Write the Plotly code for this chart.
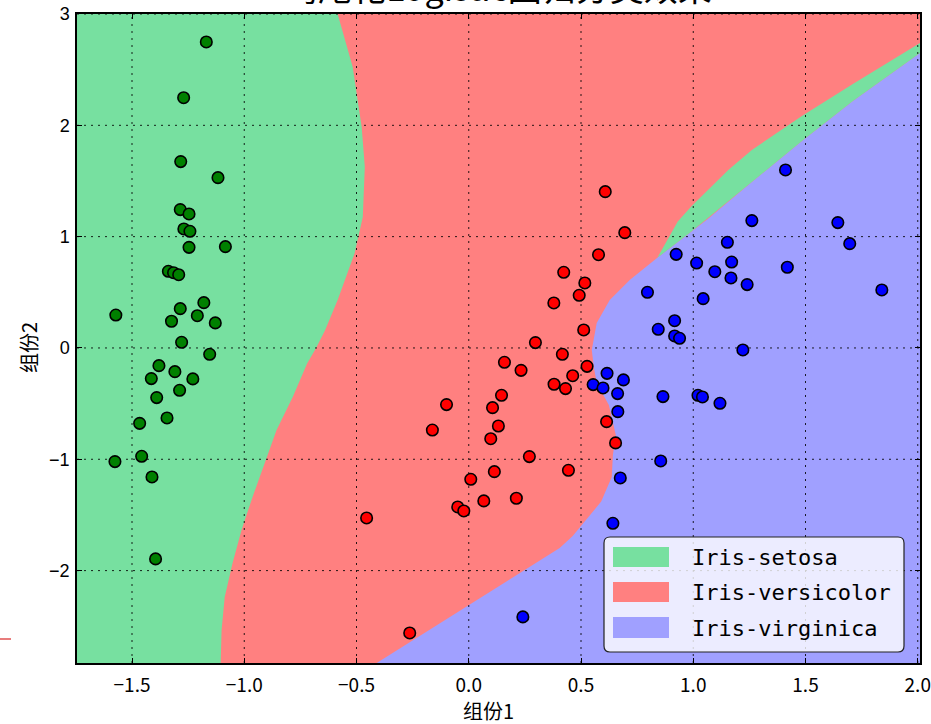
import plotly.graph_objects as go

# ---- axes -------------------------------------------------------------
X_RANGE = [-1.745, 2.01]
Y_RANGE = [-2.83, 3.0]
x_ticks = [-1.5, -1.0, -0.5, 0.0, 0.5, 1.0, 1.5, 2.0]
x_tick_text = ["−1.5", "−1.0", "−0.5", "0.0", "0.5", "1.0", "1.5", "2.0"]
y_ticks = [-2, -1, 0, 1, 2, 3]
y_tick_text = ["−2", "−1", "0", "1", "2", "3"]

class_names = ["Iris-setosa", "Iris-versicolor", "Iris-virginica"]
light_colors = ["#77E0A0", "#FF8080", "#A0A0FF"]
dark_colors = ["#008000", "#FF0000", "#0000FF"]

# ---- samples (two principal components) -------------------------------
setosa_x = [-1.169, -1.270, -1.283, -1.117, -1.285, -1.246, -1.269, -1.242, -1.246, -1.084,
            -1.338, -1.315, -1.292, -1.180, -1.285, -1.572, -1.209, -1.324, -1.129, -1.279,
            -1.154, -1.380, -1.309, -1.414, -1.229, -1.288, -1.390, -1.344, -1.466, -1.576,
            -1.457, -1.411, -1.395]
setosa_y = [2.749, 2.248, 1.674, 1.530, 1.243, 1.204, 1.069, 1.048, 0.904, 0.910,
            0.689, 0.676, 0.658, 0.407, 0.353, 0.296, 0.290, 0.240, 0.225, 0.051,
            -0.057, -0.159, -0.213, -0.275, -0.278, -0.380, -0.446, -0.629, -0.677, -1.021,
            -0.973, -1.159, -1.895]

versicolor_x = [0.608, 0.695, 0.578, 0.423, 0.517, 0.492, 0.379, 0.512, 0.297, 0.417,
                0.159, 0.233, 0.527, 0.463, 0.380, 0.431, 0.146, -0.099, 0.106, 0.614,
                -0.162, 0.132, 0.098, 0.654, 0.270, 0.114, 0.444, 0.009, 0.067, 0.212,
                -0.455, -0.263, -0.049, -0.022]
versicolor_y = [1.404, 1.036, 0.838, 0.680, 0.584, 0.473, 0.404, 0.162, 0.048, -0.057,
                -0.129, -0.201, -0.165, -0.249, -0.326, -0.365, -0.425, -0.509, -0.536, -0.662,
                -0.737, -0.701, -0.815, -0.853, -0.976, -1.111, -1.099, -1.180, -1.374, -1.350,
                -1.527, -2.560, -1.428, -1.464]

virginica_x = [0.917, 0.844, 0.917, 0.939, 1.221, 0.616, 0.689, 0.554, 0.598, 0.663,
               0.865, 1.021, 1.041, 1.119, 0.664, 0.855, 0.675, 0.642, 1.411, 1.261,
               1.644, 1.697, 1.152, 0.924, 1.015, 1.171, 1.096, 1.419, 1.168, 1.240,
               0.796, 1.044, 1.840, 0.241]
virginica_y = [0.245, 0.168, 0.108, 0.087, -0.018, -0.228, -0.287, -0.329, -0.359, -0.410,
               -0.437, -0.425, -0.440, -0.497, -0.572, -1.015, -1.168, -1.575, 1.599, 1.144,
               1.126, 0.937, 0.949, 0.841, 0.763, 0.772, 0.685, 0.725, 0.629, 0.569,
               0.500, 0.443, 0.521, -2.416]

# ---- decision boundaries of the classifier ----------------------------
# setosa | versicolor, listed from top to bottom
edge_sv_x = [-0.584, -0.517, -0.477, -0.463, -0.472, -0.508, -0.584, -0.640, -0.680, -0.720,
             -0.784, -0.856, -0.909, -0.963, -1.012, -1.052, -1.087, -1.101, -1.105]
edge_sv_y = [3.0, 2.524, 1.985, 1.626, 1.177, 0.853, 0.431, 0.160, 0.0, -0.140,
             -0.440, -0.737, -1.033, -1.338, -1.635, -1.931, -2.237, -2.533, -2.83]
# versicolor | virginica, listed from bottom to top
edge_vv_x = [-0.410, 0.004, 0.272, 0.405, 0.463, 0.590, 0.637, 0.642, 0.655, 0.624,
             0.570, 0.557, 0.548, 0.570, 0.628, 0.717, 0.840]
edge_vv_y = [-2.83, -2.309, -1.968, -1.797, -1.689, -1.380, -1.159, -0.961, -0.781, -0.512,
             -0.314, -0.171, -0.018, 0.225, 0.431, 0.611, 0.810]
# thin setosa band between versicolor and virginica
band_top_x = [0.840, 0.885, 0.931, 0.991, 1.066, 1.156, 1.261, 1.484, 1.711, 2.01]
band_top_y = [0.810, 0.970, 1.135, 1.270, 1.419, 1.599, 1.779, 2.084, 2.371, 2.74]
band_bot_x = [0.840, 0.989, 1.065, 1.261, 1.484, 1.711, 2.01]
band_bot_y = [0.810, 1.042, 1.159, 1.491, 1.859, 2.219, 2.65]

fig = go.Figure()

x0, x1 = X_RANGE
y0, y1 = Y_RANGE

# setosa region (left)
fig.add_trace(go.Scatter(
    x=[x0] + edge_sv_x + [x0], y=[y1] + edge_sv_y + [y0],
    fill="toself", fillcolor=light_colors[0], mode="lines", line=dict(width=0),
    hoverinfo="skip", showlegend=False))
# virginica region (lower right)
fig.add_trace(go.Scatter(
    x=edge_vv_x + band_bot_x[1:] + [x1], y=edge_vv_y + band_bot_y[1:] + [y0],
    fill="toself", fillcolor=light_colors[2], mode="lines", line=dict(width=0),
    hoverinfo="skip", showlegend=False))
# setosa band
fig.add_trace(go.Scatter(
    x=band_top_x + band_bot_x[::-1], y=band_top_y + band_bot_y[::-1],
    fill="toself", fillcolor=light_colors[0], mode="lines", line=dict(width=0),
    hoverinfo="skip", showlegend=False))

# dotted grid over the regions, below the samples
gx, gy = [], []
for t in x_ticks:
    gx += [t, t, None]
    gy += [y0, y1, None]
for t in y_ticks:
    gx += [x0, x1, None]
    gy += [t, t, None]
fig.add_trace(go.Scatter(x=gx, y=gy, mode="lines",
                         line=dict(color="rgba(0,0,0,0.85)", width=1, dash="2px,5px"),
                         hoverinfo="skip", showlegend=False))

for xs, ys, c, n in [(setosa_x, setosa_y, dark_colors[0], class_names[0]),
                     (versicolor_x, versicolor_y, dark_colors[1], class_names[1]),
                     (virginica_x, virginica_y, dark_colors[2], class_names[2])]:
    fig.add_trace(go.Scatter(x=xs, y=ys, mode="markers", name=n,
                             marker=dict(color=c, size=11.5, line=dict(color="black", width=1.6)),
                             showlegend=False))

# ---- layout -------------------------------------------------------------
W, H = 931, 724
L, R, T, B = 77, 11, 14, 61
pw, ph = W - L - R, H - T - B


def fx(px):
    return (px - L) / pw


def fy(py):
    return (H - B - py) / ph


shapes = []
# legend frame with rounded corners
bx0, bx1, by0, by1, rad = fx(604), fx(904), fy(537), fy(652), 6
rx, ry = rad / pw, rad / ph
path = (f"M {bx0 + rx},{by0} L {bx1 - rx},{by0} Q {bx1},{by0} {bx1},{by0 - ry} "
        f"L {bx1},{by1 + ry} Q {bx1},{by1} {bx1 - rx},{by1} L {bx0 + rx},{by1} "
        f"Q {bx0},{by1} {bx0},{by1 + ry} L {bx0},{by0 - ry} Q {bx0},{by0} {bx0 + rx},{by0} Z")
shapes.append(dict(type="path", path=path, xref="paper", yref="paper",
                   fillcolor="rgba(255,255,255,0.8)", line=dict(color="#222222", width=1.2),
                   layer="above"))
annotations = []
patch_rows = [(547, 567, 557), (582, 602, 592), (617, 638, 628)]
for (ta, tb, tc), col, name in zip(patch_rows, light_colors, class_names):
    shapes.append(dict(type="rect", xref="paper", yref="paper",
                       x0=fx(613), x1=fx(669), y0=fy(tb), y1=fy(ta),
                       fillcolor=col, line=dict(width=0), layer="above"))
    annotations.append(dict(text=name, xref="paper", yref="paper", x=fx(690), y=fy(tc),
                            xanchor="left", yanchor="middle", showarrow=False,
                            font=dict(family="DejaVu Sans Mono", size=22, color="black")))

# small red stroke at the left edge
shapes.append(dict(type="line", xref="paper", yref="paper", x0=fx(0), x1=fx(11),
                   y0=fy(639), y1=fy(639), line=dict(color="#E87C7C", width=2)))

annotations.append(dict(text="鸢尾花Logistic回归分类效果", xref="paper", yref="paper",
                        x=fx(498), y=fy(-14), xanchor="center", yanchor="middle",
                        showarrow=False,
                        font=dict(family="Noto Sans CJK SC", size=34, color="black")))
annotations.append(dict(text="组份1", xref="paper", yref="paper", x=fx(488), y=fy(710),
                        xanchor="center", yanchor="middle", showarrow=False,
                        font=dict(family="Noto Sans CJK SC", size=20, color="black")))
annotations.append(dict(text="组份2", xref="paper", yref="paper", x=fx(28), y=fy(348),
                        xanchor="center", yanchor="middle", showarrow=False, textangle=-90,
                        font=dict(family="Noto Sans CJK SC", size=20, color="black")))

axis_common = dict(showgrid=False, zeroline=False, showline=True, linecolor="black",
                   linewidth=1.5, mirror="allticks", ticks="inside", ticklen=5,
                   tickcolor="black", tickwidth=1, layer="above traces")

fig.update_layout(
    width=W, height=H,
    margin=dict(l=L, r=R, t=T, b=B, autoexpand=False),
    paper_bgcolor="white", plot_bgcolor=light_colors[1],
    showlegend=False,
    xaxis=dict(range=X_RANGE, tickmode="array", tickvals=x_ticks, ticktext=x_tick_text,
               tickfont=dict(family="Noto Sans CJK SC", size=19, color="black"),
               ticklabelstandoff=4, **axis_common),
    yaxis=dict(range=Y_RANGE, tickmode="array", tickvals=y_ticks, ticktext=y_tick_text,
               tickfont=dict(family="Liberation Sans", size=18, color="black"),
               ticklabelstandoff=2, **axis_common),
    shapes=shapes, annotations=annotations,
)

fig.write_html("out.html")
